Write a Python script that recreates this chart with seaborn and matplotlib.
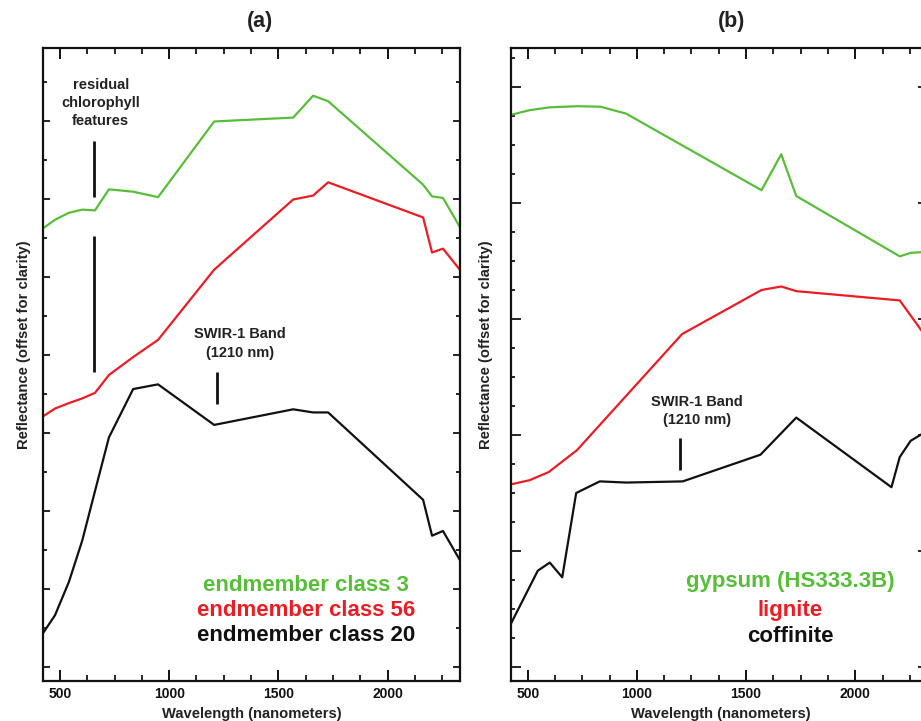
import matplotlib
matplotlib.use("Agg")
import matplotlib.pyplot as plt
import seaborn as sns
from matplotlib.ticker import MultipleLocator

# ---------------- data: panel (a) ----------------
wl_a = [422, 477, 541, 602, 660, 724, 835, 949, 1206, 1568, 1659, 1728, 2163, 2204, 2254, 2331]
class3 = [0.562, 0.573, 0.582, 0.586, 0.585, 0.612, 0.609, 0.602, 0.699, 0.704, 0.732, 0.725,
          0.618, 0.603, 0.601, 0.564]
class56 = [0.321, 0.331, 0.338, 0.344, 0.351, 0.374, 0.397, 0.419, 0.509, 0.599, 0.604, 0.621,
           0.576, 0.531, 0.536, 0.509]
class20 = [0.043, 0.066, 0.109, 0.162, 0.225, 0.294, 0.356, 0.362, 0.310, 0.330, 0.326, 0.326,
           0.214, 0.168, 0.174, 0.137]
labels_a = ["endmember class 3", "endmember class 56", "endmember class 20"]

# ---------------- data: panel (b) ----------------
wl_gyp = [424, 508, 604, 726, 833, 951, 1571, 1661, 1730, 2204, 2254, 2334]
gypsum = [0.476, 0.480, 0.4825, 0.4834, 0.483, 0.477, 0.411, 0.442, 0.406, 0.354, 0.357, 0.358]
wl_lig = [424, 508, 596, 726, 1207, 1571, 1661, 1730, 2204, 2254, 2334]
lignite = [0.1575, 0.161, 0.168, 0.187, 0.287, 0.325, 0.328, 0.324, 0.316, 0.303, 0.282]
wl_cof = [424, 546, 601, 658, 722, 830, 951, 1210, 1566, 1730, 2166, 2204, 2254, 2334]
coffinite = [0.0377, 0.083, 0.090, 0.0773, 0.150, 0.160, 0.159, 0.160, 0.183, 0.215, 0.155,
             0.181, 0.195, 0.204]
labels_b = ["gypsum (HS333.3B)", "lignite", "coffinite"]

xticks = [500, 1000, 1500, 2000]
xlabel = "Wavelength (nanometers)"
ylabel = "Reflectance (offset for clarity)"

GREEN = "#58be3a"
RED = "#ec1c24"
BLACK = "#111111"
colors = [GREEN, RED, BLACK]

sns.set_theme(style="ticks")
plt.rcParams["font.family"] = ["Liberation Sans", "DejaVu Sans"]
plt.rcParams["font.weight"] = "bold"
plt.rcParams["axes.labelweight"] = "bold"

fig = plt.figure(figsize=(9.21, 7.21), dpi=100)
W, H = 921.0, 721.0
ax_a = fig.add_axes([43 / W, 40 / H, 417 / W, 633 / H])
ax_b = fig.add_axes([510.7 / W, 40 / H, 417 / W, 633 / H])


def style(ax, ylim, ymajor, yminor):
    ax.set_xlim(422, 2332)
    ax.set_ylim(*ylim)
    ax.set_xticks(xticks)
    ax.xaxis.set_minor_locator(MultipleLocator(125))
    ax.yaxis.set_major_locator(MultipleLocator(ymajor))
    ax.yaxis.set_minor_locator(MultipleLocator(yminor))
    for s in ax.spines.values():
        s.set_linewidth(1.6)
        s.set_color("#111111")
    ax.tick_params(axis="x", which="major", direction="in", length=8, width=1.4,
                   top=True, bottom=True, labelsize=10, pad=4, colors="#111111")
    ax.tick_params(axis="x", which="minor", direction="in", length=4, width=1.4,
                   top=True, bottom=True)
    ax.tick_params(axis="y", which="major", direction="in", length=5, width=1.4,
                   left=True, right=True, labelleft=False)
    ax.tick_params(axis="y", which="minor", direction="in", length=3, width=1.4,
                   left=True, right=True)
    for t in ax.get_xticklabels():
        t.set_fontweight("bold")
    ax.set_xlabel(xlabel, fontsize=10.6, fontweight="bold", color="#222222")
    ax.set_ylabel(ylabel, fontsize=10.6, fontweight="bold", color="#222222")
    ax.set_facecolor("white")


# panel (a)
for y, c in zip([class3, class56, class20], colors):
    sns.lineplot(x=wl_a, y=y, ax=ax_a, color=c, lw=1.6, sort=False, estimator=None)
style(ax_a, (-0.0183, 0.7932), 0.1, 0.05)
ax_a.xaxis.set_label_coords(0.501, -0.041)
ax_a.yaxis.set_label_coords(-0.028, 0.532)
ax_a.text(0.52, 1.0415, "(a)", transform=ax_a.transAxes, ha="center", va="center",
          fontsize=15.5, fontweight="bold", color="#222222")

for txt, yy in zip(["residual", "chlorophyll", "features"], [0.7458, 0.7223, 0.7000]):
    ax_a.text(686, yy, txt, ha="center", va="center", fontsize=10.5, fontweight="bold",
              color="#222222")
ax_a.vlines(657, 0.6026, 0.674, color=BLACK, lw=2)
ax_a.vlines(657, 0.378, 0.552, color=BLACK, lw=2)
for txt, yy in zip(["SWIR-1 Band", "(1210 nm)"], [0.4266, 0.4026]):
    ax_a.text(1326, yy, txt, ha="center", va="center", fontsize=10.5, fontweight="bold",
              color="#222222")
ax_a.vlines(1217, 0.3364, 0.3774, color=BLACK, lw=2)
for txt, c, yy in zip(labels_a, colors, [0.1047, 0.0718, 0.0397]):
    ax_a.text(1626, yy, txt, ha="center", va="center", fontsize=16, fontweight="bold", color=c)

# panel (b)
for x, y, c in zip([wl_gyp, wl_lig, wl_cof], [gypsum, lignite, coffinite], colors):
    sns.lineplot(x=x, y=y, ax=ax_b, color=c, lw=1.6, sort=False, estimator=None)
style(ax_b, (-0.01207, 0.5336), 0.1, 0.025)
ax_b.tick_params(axis="y", which="major", length=7)
ax_b.xaxis.set_label_coords(0.504, -0.041)
ax_b.yaxis.set_label_coords(-0.042, 0.532)
ax_b.text(0.53, 1.0415, "(b)", transform=ax_b.transAxes, ha="center", va="center",
          fontsize=15.5, fontweight="bold", color="#222222")
for txt, yy in zip(["SWIR-1 Band", "(1210 nm)"], [0.2288, 0.2129]):
    ax_b.text(1277, yy, txt, ha="center", va="center", fontsize=10.5, fontweight="bold",
              color="#222222")
ax_b.vlines(1196, 0.170, 0.197, color=BLACK, lw=2)
for txt, c, yy in zip(labels_b, colors, [0.0735, 0.0485, 0.0261]):
    ax_b.text(1703, yy, txt, ha="center", va="center", fontsize=16, fontweight="bold", color=c)

fig.savefig("out.png", dpi=100, facecolor="white")
